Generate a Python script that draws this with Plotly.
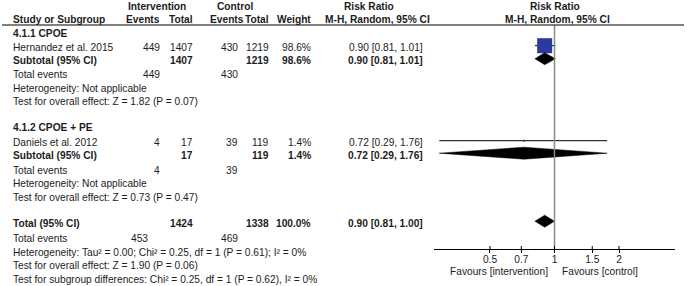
import plotly.graph_objects as go
import math

# ---------------- data ----------------
subgroups = ["4.1.1 CPOE", "4.1.2 CPOE + PE"]
studies = ["Hernandez et al. 2015", "Daniels et al. 2012"]
int_events = [449, 4]
int_total = [1407, 17]
ctrl_events = [430, 39]
ctrl_total = [1219, 119]
weights = [98.6, 1.4]
rr = [0.90, 0.72]
ci_lo = [0.81, 0.29]
ci_hi = [1.01, 1.76]

sub_rr = [0.90, 0.72]
sub_lo = [0.81, 0.29]
sub_hi = [1.01, 1.76]
sub_het = ["Heterogeneity: Not applicable", "Heterogeneity: Not applicable"]
sub_test = ["Test for overall effect: Z = 1.82 (P = 0.07)",
            "Test for overall effect: Z = 0.73 (P = 0.47)"]

total_int = 1424
total_ctrl = 1338
total_int_events = 453
total_ctrl_events = 469
total_rr = 0.90
total_lo = 0.81
total_hi = 1.00
total_het = "Heterogeneity: Tau² = 0.00; Chi² = 0.25, df = 1 (P = 0.61); I² = 0%"
total_test = "Test for overall effect: Z = 1.90 (P = 0.06)"
subgroup_test = "Test for subgroup differences: Chi² = 0.25, df = 1 (P = 0.62), I² = 0%"

tick_vals = [0.5, 0.7, 1, 1.5, 2]
tick_text = ["0.5", "0.7", "1", "1.5", "2"]
axis_lim = 3.65
favours_left = "Favours [intervention]"
favours_right = "Favours [control]"

# ---------------- layout constants ----------------
W, H = 687, 286
FONT = "Liberation Sans, Arial, sans-serif"
FS = 10.2
TXT = "#1c1c1c"
BLUE = "#2B3A9E"

# row pixel positions (from top)
group_rows = [
    dict(head=33, study=47.5, sub=60.5, ev=74.5, het=88, test=101.5),
    dict(head=127, study=142.5, sub=155, ev=170, het=183.5, test=197),
]
tot_row = dict(tot=223, ev=238, het=252, test=265.5, subg=279)
MARK_OFF = -1.8

# column x positions (pixels)
X_STUDY = 11
X_IE = 162
X_IT = 195
X_CE = 240
X_CT = 271
X_W = 313
X_RR = 425

fig = go.Figure()
ann = []


def t(x, y, s, anchor="left", bold=False, size=FS):
    ann.append(dict(x=x / W, y=y, xref="paper", yref="y", text=("<b>%s</b>" % s) if bold else s,
                    showarrow=False, xanchor=anchor, yanchor="middle",
                    font=dict(family=FONT, size=size, color=TXT)))


# headers
t(157, 6.5, "Intervention", "center", True)
t(235, 6.5, "Control", "center", True)
t(369, 6.5, "Risk Ratio", "center", True)
t(555, 6.5, "Risk Ratio", "center", True)
t(X_STUDY, 19.5, "Study or Subgroup", "left", True)
t(X_IE, 19.5, "Events", "right", True)
t(X_IT, 19.5, "Total", "right", True)
t(246, 19.5, "Events", "right", True)
t(X_CT, 19.5, "Total", "right", True)
t(X_W, 19.5, "Weight", "right", True)
t(378, 19.5, "M-H, Random, 95% CI", "center", True)
t(557, 19.5, "M-H, Random, 95% CI", "center", True)


def fmt_ci(e, lo, hi):
    return "%.2f [%.2f, %.2f]" % (e, lo, hi)


def diamond(lo, est, hi, yc, h=6):
    fig.add_trace(go.Scatter(x=[lo, est, hi, est, lo], y=[yc, yc - h, yc, yc + h, yc],
                             fill="toself", fillcolor="black", mode="lines",
                             line=dict(color="black", width=0.5), hoverinfo="skip",
                             showlegend=False, cliponaxis=False))


for i, g in enumerate(group_rows):
    t(X_STUDY, g["head"], subgroups[i], "left", True)
    t(X_STUDY, g["study"], studies[i])
    t(X_IE, g["study"], str(int_events[i]), "right")
    t(X_IT, g["study"], str(int_total[i]), "right")
    t(X_CE, g["study"], str(ctrl_events[i]), "right")
    t(X_CT, g["study"], str(ctrl_total[i]), "right")
    t(X_W, g["study"], "%.1f%%" % weights[i], "right")
    t(X_RR, g["study"], fmt_ci(rr[i], ci_lo[i], ci_hi[i]), "right")

    t(X_STUDY, g["sub"], "Subtotal (95% CI)", "left", True)
    t(X_IT, g["sub"], str(int_total[i]), "right", True)
    t(X_CT, g["sub"], str(ctrl_total[i]), "right", True)
    t(X_W, g["sub"], "%.1f%%" % weights[i], "right", True)
    t(X_RR, g["sub"], fmt_ci(sub_rr[i], sub_lo[i], sub_hi[i]), "right", True)

    t(X_STUDY, g["ev"], "Total events")
    t(X_IE, g["ev"], str(int_events[i]), "right")
    t(X_CE, g["ev"], str(ctrl_events[i]), "right")
    t(X_STUDY, g["het"], sub_het[i])
    t(X_STUDY, g["test"], sub_test[i])

    ym = g["study"] + MARK_OFF
    # CI line
    fig.add_trace(go.Scatter(x=[ci_lo[i], ci_hi[i]], y=[ym, ym], mode="lines",
                             line=dict(color="black", width=1), hoverinfo="skip",
                             showlegend=False, cliponaxis=False))
    # square sized by weight
    size = max(2, 15 * math.sqrt(weights[i] / max(weights)))
    fig.add_trace(go.Scatter(x=[rr[i]], y=[ym], mode="markers",
                             marker=dict(symbol="square", size=size, color=BLUE,
                                         line=dict(width=0)),
                             hoverinfo="skip", showlegend=False, cliponaxis=False))
    diamond(sub_lo[i], sub_rr[i], sub_hi[i], g["sub"] + MARK_OFF)

# overall
t(X_STUDY, tot_row["tot"], "Total (95% CI)", "left", True)
t(X_IT, tot_row["tot"], str(total_int), "right", True)
t(X_CT, tot_row["tot"], str(total_ctrl), "right", True)
t(X_W, tot_row["tot"], "100.0%", "right", True)
t(X_RR, tot_row["tot"], fmt_ci(total_rr, total_lo, total_hi), "right", True)
t(X_STUDY, tot_row["ev"], "Total events")
t(150, tot_row["ev"], str(total_int_events), "right")
t(X_CE, tot_row["ev"], str(total_ctrl_events), "right")
t(X_STUDY, tot_row["het"], total_het)
t(X_STUDY, tot_row["test"], total_test)
t(X_STUDY, tot_row["subg"], subgroup_test)
diamond(total_lo, total_rr, total_hi, tot_row["tot"] + MARK_OFF)

# null line
AX_Y = 249
fig.add_trace(go.Scatter(x=[1, 1], y=[25, AX_Y], mode="lines",
                         line=dict(color="#8a8a8a", width=1.5), hoverinfo="skip",
                         showlegend=False, cliponaxis=False))
# upper halves of ticks (crossing the axis)
tx, ty = [], []
for v in tick_vals:
    tx += [v, v, None]
    ty += [AX_Y - 3, AX_Y, None]
fig.add_trace(go.Scatter(x=tx, y=ty, mode="lines", line=dict(color="black", width=1),
                         hoverinfo="skip", showlegend=False, cliponaxis=False))

# favours labels
t(550, 271, favours_left, "right")
t(560, 271, favours_right, "left")

x0p, x1p = 434, 675
lr = math.log10(axis_lim)
fig.update_layout(
    width=W, height=H,
    margin=dict(l=0, r=0, t=0, b=0),
    paper_bgcolor="white", plot_bgcolor="rgba(0,0,0,0)",
    showlegend=False,
    annotations=ann,
    xaxis=dict(type="log", domain=[x0p / W, x1p / W], range=[-lr, lr],
               anchor="free", position=1 - AX_Y / H,
               showline=True, linecolor="black", linewidth=1,
               showgrid=False, zeroline=False,
               tickvals=tick_vals, ticktext=tick_text,
               ticks="outside", ticklen=3, tickcolor="black", tickwidth=1,
               ticklabelstandoff=-2,
               tickfont=dict(family=FONT, size=FS, color=TXT), fixedrange=True),
    yaxis=dict(range=[H, 0], domain=[0, 1], visible=False, fixedrange=True),
    shapes=[dict(type="line", xref="paper", yref="y", x0=2 / W, x1=684 / W,
                 y0=25, y1=25, line=dict(color="black", width=1))],
)

fig.write_html("out.html", config={"displayModeBar": False},
               post_script="document.body.style.margin='0';document.body.style.overflow='hidden';")
